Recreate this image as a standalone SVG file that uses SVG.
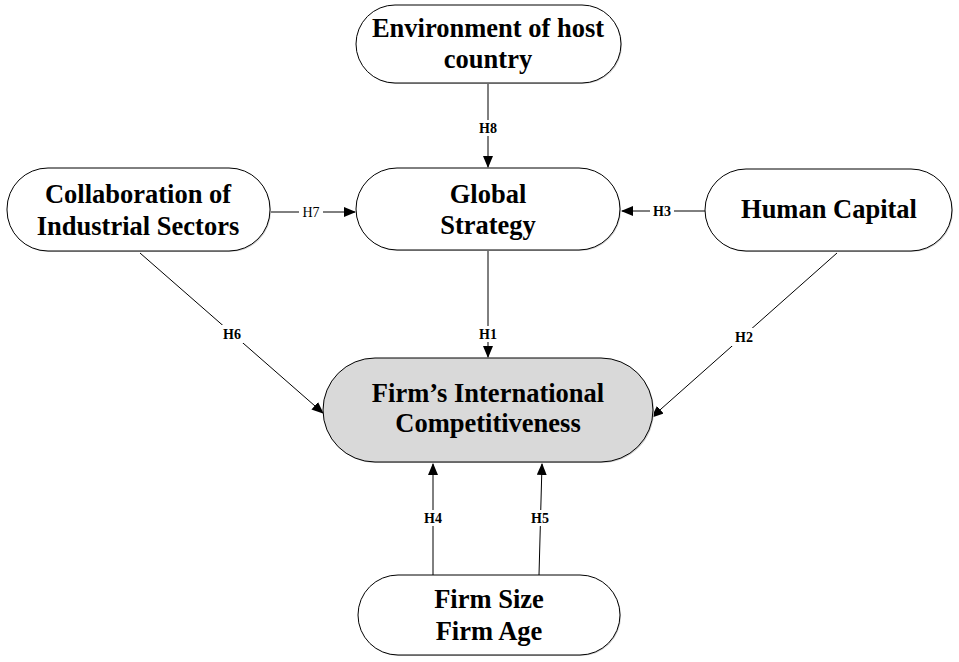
<svg xmlns="http://www.w3.org/2000/svg" width="959" height="662" viewBox="0 0 959 662">
<style>
.node{fill:#fff;stroke:#000;stroke-width:1}
.main{fill:#d9d9d9;stroke:#000;stroke-width:1}
.shadow{fill:#d0d0d0;stroke:none}
.t{font-family:'Liberation Serif',serif;font-weight:bold;font-size:26.5px;fill:#000;text-anchor:middle}
.e{stroke:#000;stroke-width:1;fill:none}
.lb{fill:#fff;stroke:none}
.l{font-family:'Liberation Serif',serif;font-weight:bold;font-size:14px;fill:#000;text-anchor:middle}
.ln{font-weight:normal}
</style>
<defs>
<marker id="arr" markerWidth="12" markerHeight="10" refX="11" refY="5" orient="auto" markerUnits="userSpaceOnUse">
<path d="M0,0 L12,5 L0,10 Z" fill="#000"/>
</marker>
</defs>
<rect width="959" height="662" fill="#fff"/>
<g id="connectors">
<line class="e" x1="488" y1="84" x2="488" y2="167" marker-end="url(#arr)"/>
<rect class="lb" x="476" y="120" width="24" height="16"/>
<text class="l" x="488" y="133">H8</text>
<line class="e" x1="271" y1="212" x2="355" y2="212" marker-end="url(#arr)"/>
<rect class="lb" x="299" y="204" width="24" height="16"/>
<text class="l ln" x="311" y="217">H7</text>
<line class="e" x1="705" y1="211" x2="622" y2="211" marker-end="url(#arr)"/>
<rect class="lb" x="650" y="203" width="24" height="16"/>
<text class="l" x="662" y="216">H3</text>
<line class="e" x1="488" y1="251" x2="488" y2="357" marker-end="url(#arr)"/>
<rect class="lb" x="476" y="326" width="24" height="16"/>
<text class="l" x="488" y="339">H1</text>
<line class="e" x1="140" y1="253" x2="323" y2="413" marker-end="url(#arr)"/>
<rect class="lb" x="220" y="325" width="24" height="18"/>
<text class="l" x="232" y="339">H6</text>
<line class="e" x1="837" y1="253" x2="652" y2="417" marker-end="url(#arr)"/>
<rect class="lb" x="732" y="328" width="24" height="18"/>
<text class="l" x="744" y="342">H2</text>
<line class="e" x1="433" y1="575" x2="433" y2="464" marker-end="url(#arr)"/>
<rect class="lb" x="421" y="510" width="24" height="16"/>
<text class="l" x="433" y="523">H4</text>
<line class="e" x1="539" y1="575" x2="542" y2="464" marker-end="url(#arr)"/>
<rect class="lb" x="528" y="510" width="24" height="16"/>
<text class="l" x="540" y="523">H5</text>
</g>
<g id="node-environment">
<rect class="shadow" x="357" y="6" width="265" height="78" rx="39"/>
<rect class="node" x="356" y="5" width="265" height="78" rx="39"/>
<text class="t" x="488" y="37">Environment of host</text>
<text class="t" x="488" y="68">country</text>
</g>
<g id="node-global-strategy">
<rect class="shadow" x="357" y="169" width="264" height="82" rx="41"/>
<rect class="node" x="356" y="168" width="264" height="82" rx="41"/>
<text class="t" x="488" y="203">Global</text>
<text class="t" x="488" y="234">Strategy</text>
</g>
<g id="node-collaboration">
<rect class="shadow" x="8" y="169" width="263" height="83" rx="41"/>
<rect class="node" x="7" y="168" width="263" height="83" rx="41"/>
<text class="t" x="138" y="203">Collaboration of</text>
<text class="t" x="138" y="235">Industrial Sectors</text>
</g>
<g id="node-human-capital">
<rect class="shadow" x="706" y="170" width="247" height="82" rx="41"/>
<rect class="node" x="705" y="169" width="247" height="82" rx="41"/>
<text class="t" x="829" y="218">Human Capital</text>
</g>
<g id="node-competitiveness">
<rect class="shadow" x="324" y="359" width="330" height="104" rx="52"/>
<rect class="main" x="323" y="358" width="330" height="104" rx="52"/>
<text class="t" x="488" y="402">Firm’s International</text>
<text class="t" x="488" y="432">Competitiveness</text>
</g>
<g id="node-firm-size-age">
<rect class="shadow" x="359" y="576" width="262" height="80" rx="40"/>
<rect class="node" x="358" y="575" width="262" height="80" rx="40"/>
<text class="t" x="489" y="608">Firm Size</text>
<text class="t" x="489" y="640">Firm Age</text>
</g>
</svg>
